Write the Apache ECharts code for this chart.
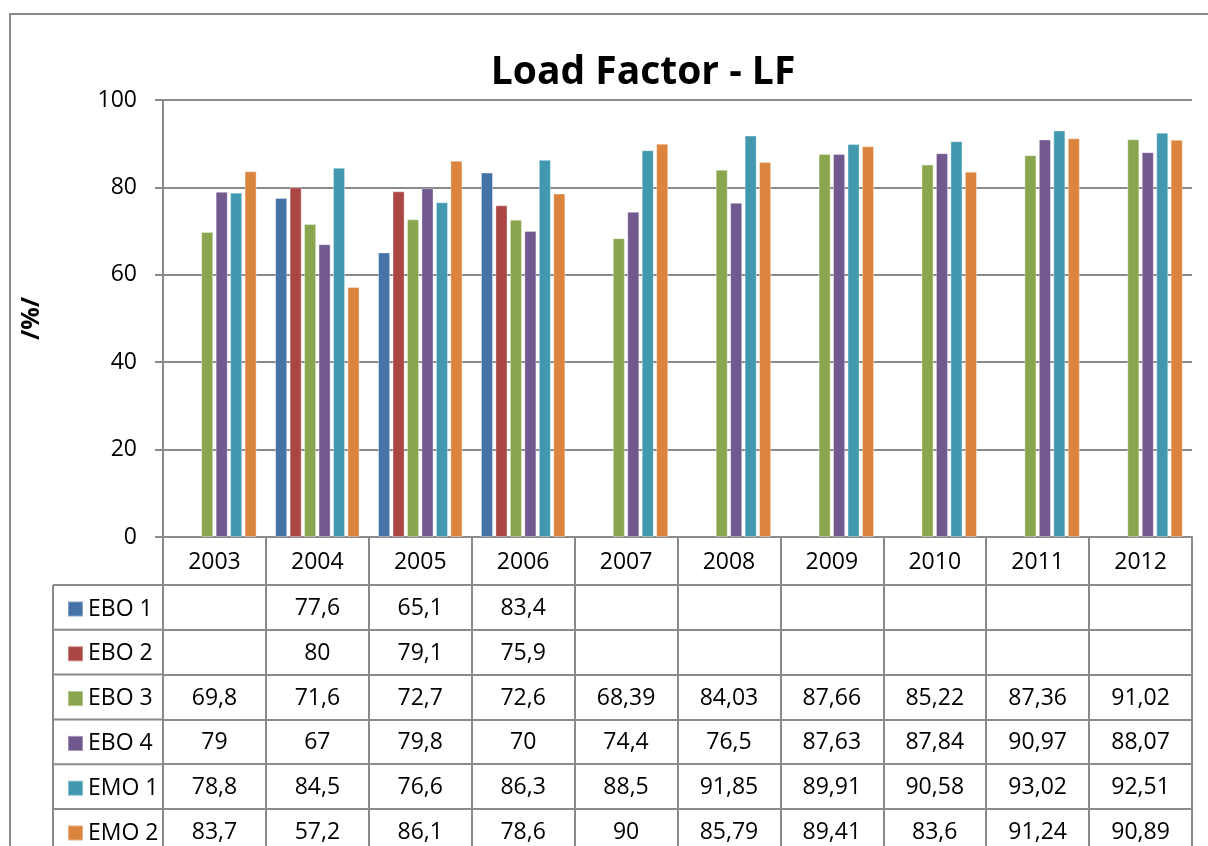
<!DOCTYPE html>
<html>
<head>
<meta charset="utf-8">
<title>Load Factor - LF</title>
<script src="https://cdn.jsdelivr.net/npm/echarts@6/dist/echarts.min.js"></script>
<style>
  html, body { margin: 0; padding: 0; background: #fff; }
  #chart { width: 1208px; height: 846px; }
</style>
</head>
<body>
<div id="chart"></div>
<script>
// data (null = no value in the table)
const years = ["2003", "2004", "2005", "2006", "2007", "2008", "2009", "2010", "2011", "2012"];
const seriesNames = ["EBO 1", "EBO 2", "EBO 3", "EBO 4", "EMO 1", "EMO 2"];
const ebo1 = [null, 77.6, 65.1, 83.4, null, null, null, null, null, null];
const ebo2 = [null, 80, 79.1, 75.9, null, null, null, null, null, null];
const ebo3 = [69.8, 71.6, 72.7, 72.6, 68.39, 84.03, 87.66, 85.22, 87.36, 91.02];
const ebo4 = [79, 67, 79.8, 70, 74.4, 76.5, 87.63, 87.84, 90.97, 88.07];
const emo1 = [78.8, 84.5, 76.6, 86.3, 88.5, 91.85, 89.91, 90.58, 93.02, 92.51];
const emo2 = [83.7, 57.2, 86.1, 78.6, 90, 85.79, 89.41, 83.6, 91.24, 90.89];
const yTicks = [0, 20, 40, 60, 80, 100];

const rows = [ebo1, ebo2, ebo3, ebo4, emo1, emo2];
const colors = ["#4572A7", "#AA4643", "#89A54E", "#71588F", "#4198AF", "#DB843D"];

// layout (pixels)
const W = 1208, H = 846;
const plotLeft = 163, plotRight = 1192, plotTop = 100, axisY = 537;
const headerH = 48, rowH = 44.8;
const tableLeft = 53;
const lineColor = "#8a8a8a";
const font = "'Open Sans', 'Liberation Sans', sans-serif";

function fmt(v) {
  return v == null ? "" : String(v).replace(".", ",");
}

const chart = echarts.init(document.getElementById("chart"));

// first axis = year header with long ticks (table verticals),
// one extra axis per series row to print the table values
const xAxes = [{
  type: "category",
  data: years,
  position: "bottom",
  boundaryGap: true,
  axisLine: { show: true, lineStyle: { color: lineColor, width: 2 } },
  axisTick: { show: true, alignWithLabel: false, length: H - axisY, lineStyle: { color: lineColor, width: 2 } },
  axisLabel: { color: "#000", fontSize: 23, fontFamily: font, margin: 13.5, interval: 0 },
  splitLine: { show: false }
}];
rows.forEach((row, i) => {
  xAxes.push({
    type: "category",
    data: years,
    position: "bottom",
    offset: headerH + i * rowH,
    boundaryGap: true,
    axisLine: { show: true, lineStyle: { color: lineColor, width: 2 } },
    axisTick: { show: false },
    axisLabel: {
      color: "#000", fontSize: 23, fontFamily: font, margin: 12, interval: 0,
      formatter: (v, idx) => fmt(row[idx])
    },
    splitLine: { show: false }
  });
});

// one legend per table row, in the left column
const legends = seriesNames.map((name, i) => ({
  data: [name],
  orient: "vertical",
  left: 62,
  top: axisY + headerH + i * rowH + 6,
  icon: "rect",
  itemWidth: 15,
  itemHeight: 15,
  selectedMode: false,
  textStyle: { fontSize: 23, lineHeight: 26, color: "#000", fontFamily: font }
}));

// left column of the data table
const tableGraphics = [];
for (let i = 0; i < rows.length; i++) {
  const y = axisY + headerH + i * rowH;
  tableGraphics.push({
    type: "line", silent: true,
    shape: { x1: tableLeft, y1: y, x2: plotLeft, y2: y },
    style: { stroke: lineColor, lineWidth: 2 }
  });
}
tableGraphics.push({
  type: "line", silent: true,
  shape: { x1: tableLeft, y1: axisY + headerH, x2: tableLeft, y2: H + 10 },
  style: { stroke: lineColor, lineWidth: 2 }
});
// chart frame
tableGraphics.push({
  type: "rect", silent: true, z: -1,
  shape: { x: 10, y: 14, width: W + 100, height: H + 100 },
  style: { fill: "none", stroke: lineColor, lineWidth: 2 }
});

const option = {
  animation: false,
  backgroundColor: "#fff",
  color: colors,
  title: {
    text: "Load Factor - LF",
    left: 638,
    top: 48,
    textAlign: "center",
    textStyle: { fontSize: 39, fontWeight: "bold", color: "#000", fontFamily: font }
  },
  legend: legends,
  grid: {
    left: plotLeft,
    right: W - plotRight,
    top: plotTop,
    bottom: H - axisY,
    containLabel: false,
    outerBoundsMode: "none"
  },
  xAxis: xAxes,
  yAxis: {
    type: "value",
    min: yTicks[0],
    max: yTicks[yTicks.length - 1],
    interval: 20,
    name: "/%/",
    nameLocation: "middle",
    nameGap: 119,
    nameRotate: 90,
    nameTextStyle: { fontSize: 25, fontWeight: "bold", color: "#000", fontFamily: font },
    axisLine: { show: true, lineStyle: { color: lineColor, width: 2 } },
    axisTick: { show: true, length: 8, lineStyle: { color: lineColor, width: 2 } },
    axisLabel: { color: "#000", fontSize: 23, fontFamily: font, margin: 26 },
    splitLine: { show: true, lineStyle: { color: lineColor, width: 2 } }
  },
  graphic: tableGraphics,
  series: rows.map((row, i) => ({
    name: seriesNames[i],
    type: "bar",
    data: row,
    xAxisIndex: 0,
    barGap: "20%",
    barCategoryGap: "18%",
    itemStyle: { color: colors[i], borderColor: "rgba(255,255,255,0.35)", borderWidth: 1 }
  }))
};

chart.setOption(option);
</script>
</body>
</html>
